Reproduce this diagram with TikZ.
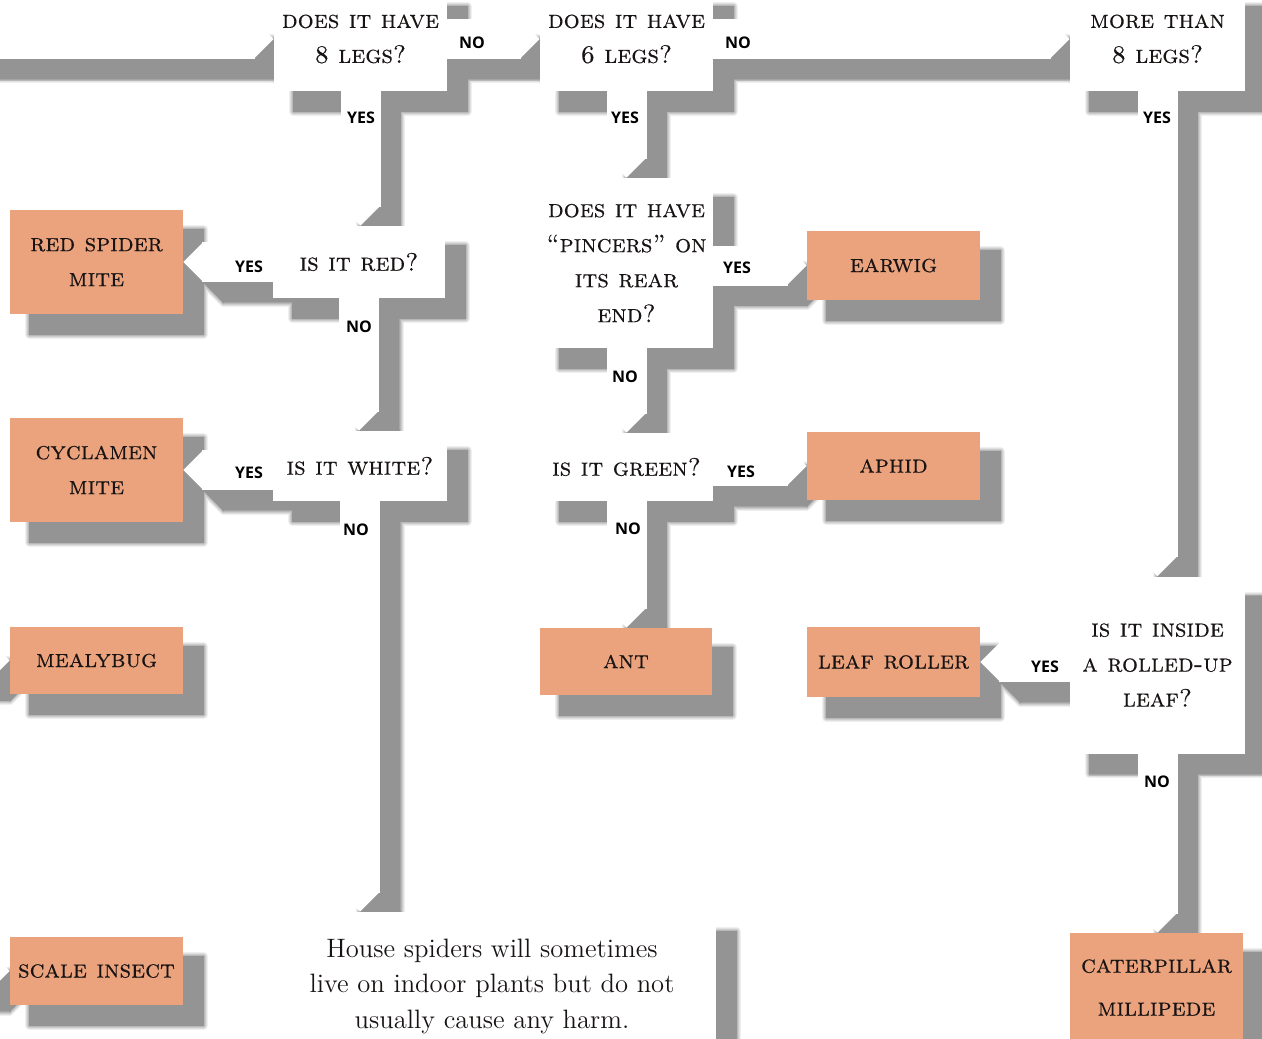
\documentclass[tikz,border=0pt]{standalone}
\usepackage{fontspec}
\newfontfamily\lblfont{Open Sans}
\newfontfamily\qsc{lmromancaps10-regular.otf}[Ligatures=TeX,FakeBold=0.4]
\usetikzlibrary{calc}
\definecolor{shgrey}{RGB}{148,148,148}
\definecolor{ans}{RGB}{235,163,126}
\definecolor{ink}{RGB}{25,20,20}
\pgfdeclarelayer{bg}
\pgfdeclarelayer{shad}
\pgfdeclarelayer{bars}
\pgfsetlayers{bg,shad,bars,main}
\newcommand\qfont{\qsc\fontsize{12.6}{17.5}\selectfont}
\newcommand\nfont{\fontsize{13.3}{17.75}\selectfont}
% connectors: #1 start, #2 tip point
\newcommand\connD[2]{\path[barline] (#1) -- ($(#2)+(0,-19)$);
  \path[bartip] ($(#2)+(-20,-20)$) -- (#2) -- ($(#2)+(20,-20)$) -- cycle;}
\newcommand\connR[2]{\path[barline] (#1) -- ($(#2)+(-19,0)$);
  \path[bartip] ($(#2)+(-20,-20)$) -- (#2) -- ($(#2)+(-20,20)$) -- cycle;}
\newcommand\connL[2]{\path[barline] (#1) -- ($(#2)+(19,0)$);
  \path[bartip] ($(#2)+(20,-20)$) -- (#2) -- ($(#2)+(20,20)$) -- cycle;}
\newcommand\allconn{%
  \connR{in0}{q1.west}
  \connR{q1.east}{q2.west}
  \connR{q2.east}{q3.west}
  \connD{q1.south}{q1.south |- qred.north}
  \connD{qred.south}{qred.south |- qwhite.north}
  \connL{qred.west |- red.east}{red.east}
  \connL{qwhite.west |- cyc.east}{cyc.east}
  \connD{qwhite.south}{qwhite.south |- note.north}
  \connD{q2.south}{q2.south |- qpin.north}
  \connR{qpin.east |- earwig.west}{earwig.west}
  \connD{qpin.south}{qpin.south |- qgreen.north}
  \connR{qgreen.east |- aphid.west}{aphid.west}
  \connD{qgreen.south}{qgreen.south |- ant.north}
  \connD{q3.south}{q3.south |- q7.north}
  \connL{q7.west |- leaf.east}{leaf.east}
  \connD{q7.south}{q7.south |- cat.north}
  \connR{in1}{mealy.west}
  \connR{in2}{scale.west}
}
\begin{document}
\begin{tikzpicture}[x=0.5pt,y=-0.5pt,
  barline/.style={draw=white,line width=20pt},
  bartip/.style={fill=white},
  qbox/.style={fill=white,inner sep=0pt,align=center,font=\qfont,text=ink},
  abox/.style={fill=ans,inner sep=0pt,align=center,font=\qfont,text=ink},
  notebox/.style={fill=white,inner sep=0pt,align=center,font=\nfont,text=ink},
  lbl/.style={inner sep=0pt,font=\lblfont\bfseries\fontsize{8}{9}\selectfont,text=black}]
\useasboundingbox (0,0) rectangle (1262,1038);
\begin{pgfonlayer}{bg}
\fill[white] (0,0) rectangle (1262,1038);
\end{pgfonlayer}
% free ends
\coordinate (in0) at (-80,39);
\coordinate (in1) at (-80,660.5);
\coordinate (in2) at (-80,971);
% question boxes
\node[qbox,minimum width=86.5pt,minimum height=52pt] (q1) at (360.5,39) {does it have\\8 legs?};
\node[qbox,minimum width=86.5pt,minimum height=52pt] (q2) at (626.5,39) {does it have\\6 legs?};
\node[qbox,minimum width=87.5pt,minimum height=52pt] (q3) at (1157.5,39) {more than\\8 legs?};
\node[qbox,minimum width=86pt,minimum height=36pt] (qred) at (359,262) {is it red?};
\node[qbox,minimum width=87pt,minimum height=35pt] (qwhite) at (360,466) {is it white?};
\node[qbox,minimum width=86.5pt,minimum height=85pt] (qpin) at (626.5,263) {does it have\\“pincers” on\\its rear\\end?};
\node[qbox,minimum width=86.5pt,minimum height=34pt] (qgreen) at (626.5,467) {is it green?};
\node[qbox,minimum width=87.5pt,minimum height=88.5pt] (q7) at (1157.5,665) {is it inside\\a rolled-up\\leaf?};
\node[notebox,minimum width=224pt,minimum height=74pt] (note) at (492,986) {House spiders will sometimes\\live on indoor plants but do not\\usually cause any harm.};
% answer boxes
\node[abox,minimum width=86.5pt,minimum height=52pt] (red) at (96.5,262) {red spider\\mite};
\node[abox,minimum width=86.5pt,minimum height=52pt] (cyc) at (96.5,470) {cyclamen\\mite};
\node[abox,minimum width=86.5pt,minimum height=33.5pt] (mealy) at (96.5,660.5) {mealybug};
\node[abox,minimum width=86.5pt,minimum height=34pt] (scale) at (96.5,971) {scale insect};
\node[abox,minimum width=86pt,minimum height=33.5pt] (ant) at (626,661.5) {ant};
\node[abox,minimum width=86.5pt,minimum height=34.5pt] (earwig) at (893.5,265.5) {earwig};
\node[abox,minimum width=86.5pt,minimum height=34pt] (aphid) at (893.5,466) {aphid};
\node[abox,minimum width=86.5pt,minimum height=35pt] (leaf) at (893.5,662) {leaf roller};
\node[abox,minimum width=86.5pt,minimum height=54.5pt] (cat) at (1156.5,987.5) {caterpillar\\[4pt]millipede};
% labels
\node[lbl] (n1) at (472,43) {NO};
\node[lbl] (y1) at (361,118) {YES};
\node[lbl] (n2) at (738,43) {NO};
\node[lbl] (y2) at (625,118) {YES};
\node[lbl] (y3) at (1157,118) {YES};
\node[lbl] (y4) at (249,267) {YES};
\node[lbl] (n4) at (359,327) {NO};
\node[lbl] (y5) at (249,473) {YES};
\node[lbl] (n5) at (356,530) {NO};
\node[lbl] (y6) at (737,268) {YES};
\node[lbl] (n6) at (625,377) {NO};
\node[lbl] (y7) at (741,472) {YES};
\node[lbl] (n7) at (628,529) {NO};
\node[lbl] (y8) at (1045,667) {YES};
\node[lbl] (n8) at (1157,782) {NO};
% drop shadows, soft edged: outer light rings first, then the core
\begin{pgfonlayer}{shad}
\foreach \e/\p in {4.5/15,3.5/30,2.5/48,1.6/66,0.8/84,0/100}{
  \colorlet{shc}{shgrey!\p!white}
  \pgfmathsetmacro\lw{20+\e}
  \begin{scope}[transform canvas={xshift=10pt,yshift=-10pt},
    barline/.style={draw=shc,line width=\lw pt},
    bartip/.style={fill=shc,draw=shc,line width=\e pt,line join=round}]
    \allconn
    \foreach \n in {q1,q2,q3,qred,qwhite,qpin,qgreen,q7,note,red,cyc,mealy,scale,ant,earwig,aphid,leaf,cat}{
      \path[fill=shc,draw=shc,line width=\e pt,line join=round] (\n.north west) rectangle (\n.south east);}
  \end{scope}}
\end{pgfonlayer}
% white connectors
\begin{pgfonlayer}{bars}
\allconn
\end{pgfonlayer}
\end{tikzpicture}
\end{document}
